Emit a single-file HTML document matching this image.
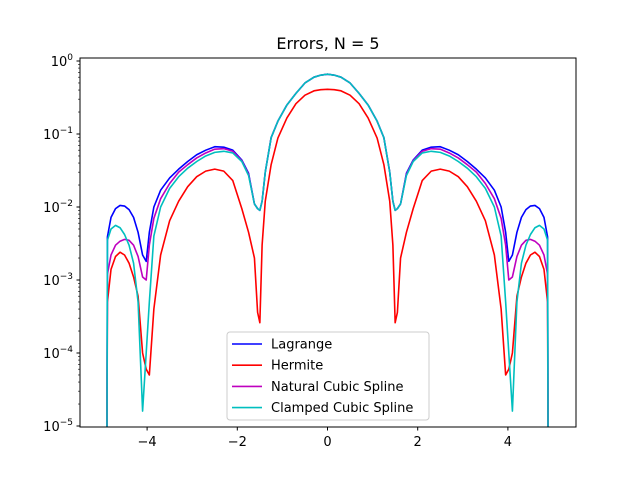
<!DOCTYPE html>
<html><head><meta charset="utf-8"><style>
html,body{margin:0;padding:0;background:#fff;overflow:hidden;width:640px;height:480px}
svg{display:block}
svg text{font-family:"DejaVu Sans","Liberation Sans",sans-serif;fill:#000}
</style></head><body>
<svg id="chart" width="640" height="480" viewBox="0 0 640 480" xmlns="http://www.w3.org/2000/svg">
<defs><clipPath id="clip"><rect x="80" y="58" width="496" height="369"/></clipPath></defs>
<text x="328" y="49" font-size="16" text-anchor="middle">Errors, N = 5</text>
<g id="plot" clip-path="url(#clip)"></g>
<g id="axes"></g>
<rect x="80" y="58" width="496" height="369" fill="none" stroke="#000" stroke-width="1"/>
<g id="legend"></g>
</svg>
<script>
// half-domain sample x (mirrored to positive side)
const xHalf = [-4.89,-4.88,-4.8,-4.7,-4.6,-4.5,-4.4,-4.3,-4.2,-4.1,-4.02,-3.95,-3.85,-3.7,-3.5,-3.3,-3.1,-2.9,-2.7,-2.5,-2.3,-2.1,-1.9,-1.75,-1.62,-1.55,-1.5,-1.45,-1.38,-1.25,-1.1,-0.9,-0.7,-0.5,-0.3,-0.15,0];
const lagrange = [1e-7,.0039,.0072,.0095,.0105,.0103,.0092,.0072,.0045,.0022,.0018,.0045,.01,.017,.025,.033,.042,.052,.06,.067,.066,.06,.044,.029,.011,.0095,.009,.012,.03,.089,.15,.25,.36,.5,.6,.64,.66];
const hermite = [1e-7,5e-4,.0014,.0021,.0024,.0022,.0017,.0011,.0006,.0001,6e-5,5e-5,.0004,.0022,.0065,.012,.019,.026,.031,.033,.031,.023,.0095,.0045,.002,3.6e-4,2.6e-4,.003,.012,.038,.088,.166,.26,.34,.39,.405,.41];
const natural = [1e-7,.0012,.0022,.003,.0034,.0036,.0035,.003,.0021,.0011,.001,.003,.007,.013,.021,.03,.038,.047,.055,.062,.063,.058,.043,.028,.011,.0095,.009,.012,.03,.089,.15,.25,.36,.5,.6,.64,.66];
const clamped = [1e-7,.0035,.005,.0056,.0052,.0042,.003,.0017,.0005,1.6e-5,1e-4,.0005,.004,.01,.018,.026,.034,.042,.05,.056,.058,.055,.042,.027,.011,.0095,.009,.012,.03,.089,.15,.25,.36,.5,.6,.64,.66];
const seriesNames = ["Lagrange","Hermite","Natural Cubic Spline","Clamped Cubic Spline"];
const seriesColors = ["#0000ff","#ff0000","#bf00bf","#00bfbf"];
const xTicks = [-4,-2,0,2,4];
const yTickExp = [-5,-4,-3,-2,-1,0];

const NS="http://www.w3.org/2000/svg";
const sx = x => 327.5 + x*45.1;
const sy = v => 61 - 73*Math.log10(v);
function el(tag, attrs, parent){const e=document.createElementNS(NS,tag);for(const k in attrs)e.setAttribute(k,attrs[k]);parent.appendChild(e);return e;}
const plot=document.getElementById('plot'), axes=document.getElementById('axes'), legend=document.getElementById('legend');

[lagrange,hermite,natural,clamped].forEach((vals,i)=>{
  const xs=[], vs=[];
  for(let j=0;j<xHalf.length;j++){xs.push(xHalf[j]);vs.push(vals[j]);}
  for(let j=xHalf.length-2;j>=0;j--){xs.push(-xHalf[j]);vs.push(vals[j]);}
  const d=xs.map((x,k)=>(k?'L':'M')+sx(x).toFixed(2)+','+Math.min(sy(vs[k]),440).toFixed(2)).join('');
  const p=el('path',{d:d,fill:'none',stroke:seriesColors[i],'stroke-width':1.6,'stroke-linejoin':'round'},plot);
  
  
});

xTicks.forEach(t=>{
  const x=sx(t);
  el('line',{x1:x,x2:x,y1:427,y2:430.5,stroke:'#000'},axes);
  const tx=el('text',{x:x,y:446,'font-size':13,'text-anchor':'middle'},axes);
  tx.textContent=(t<0?'\u2212':'')+Math.abs(t);
  
  
});
yTickExp.forEach(e=>{
  const y=sy(Math.pow(10,e));
  el('line',{x1:76.5,x2:80,y1:y,y2:y,stroke:'#000'},axes);
  const tx=el('text',{x:73,y:y+5,'font-size':13,'text-anchor':'end'},axes);
  tx.innerHTML='10<tspan dy="-6" font-size="9">'+(e<0?'\u2212':'')+Math.abs(e)+'</tspan>';
  
  
  if(e<0){for(let m=2;m<10;m++){const ym=sy(m*Math.pow(10,e));el('line',{x1:78,x2:80,y1:ym,y2:ym,stroke:'#000','stroke-width':0.6},axes);}}
});

el('rect',{x:227,y:332,width:202,height:88,rx:3,fill:'#fff','fill-opacity':0.8,stroke:'#ccc'},legend);
seriesNames.forEach((n,i)=>{
  const y=344+i*21.2;
  const g=el('g',{},legend);
  
  
  el('line',{x1:232,x2:262,y1:y,y2:y,stroke:seriesColors[i],'stroke-width':1.6},g);
  const t=el('text',{x:271,y:y+4.5,'font-size':13},g);
  t.textContent=n;
});
</script>
</body></html>
